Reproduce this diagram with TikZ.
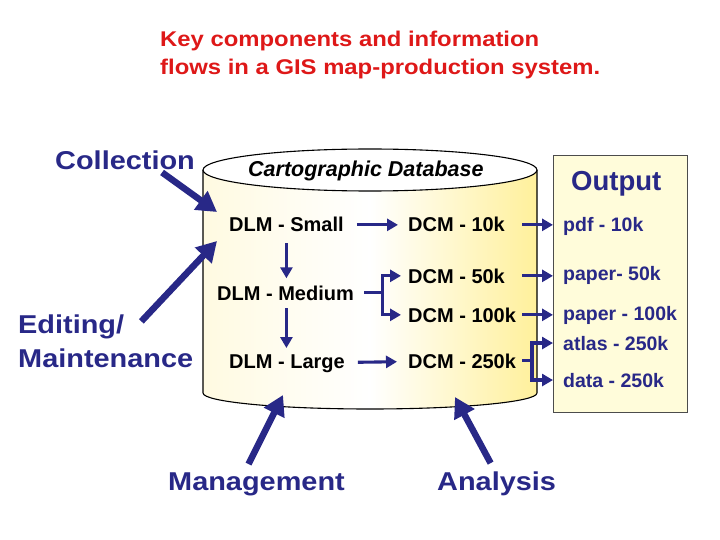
\documentclass[tikz,border=0pt]{standalone}
\usepackage{fontspec}
\setmainfont{Liberation Sans}
\newfontfamily\widefont{Liberation Sans}[FakeStretch=1.12]
\usepackage{xcolor}
\usepackage{tikz}
\usetikzlibrary{arrows.meta, calc}

\definecolor{navy}{RGB}{40,40,135}
\definecolor{titlered}{RGB}{222,24,24}
\definecolor{dbyellow}{RGB}{255,240,155}
\definecolor{dbpale}{RGB}{255,250,225}
\definecolor{boxfill}{RGB}{255,252,218}

\tikzset{
  head/.style={font=\widefont\fontsize{21.3}{26}\selectfont\bfseries, text=titlered, inner sep=0pt, anchor=base west},
  role/.style={font=\widefont\fontsize{25.8}{30}\selectfont\bfseries, text=navy, inner sep=2pt, anchor=base west},
  db/.style={font=\fontsize{20}{24}\selectfont\bfseries, inner sep=1pt, anchor=base west},
  item/.style={font=\fontsize{19.5}{23}\selectfont\bfseries, text=navy, inner sep=1pt, anchor=base west},
  flow/.style={draw=navy, line width=3.1pt, -{Triangle[length=11pt,width=12pt]}},
  wire/.style={draw=navy, line width=3.1pt},
  bigflow/.style={draw=navy, line width=6.5pt, -{Triangle[length=20pt,width=22pt]}}
}

\begin{document}
\begin{tikzpicture}[x=1pt, y=-1pt]
    \useasboundingbox (0,0) rectangle (720,540);

    % Titolo
    \node[head] (t1) at (160,47) {Key components and information};
    \node[head] (t2) at (160,75) {flows in a GIS map-production system.};

    % Database
    \shade[left color=dbpale, right color=dbyellow, middle color=white]
        (203,170) -- (203,393) arc[start angle=180, end angle=0, x radius=167, y radius=16] -- (537,170) -- cycle;
    \draw[line width=1.1pt] (203,170) -- (203,393) arc[start angle=180, end angle=0, x radius=167, y radius=16] -- (537,170);
    \draw[line width=1.1pt, fill=white] (370,170) ellipse [x radius=167, y radius=21];
    \node[font=\fontsize{21.5}{26}\selectfont\bfseries\itshape, inner sep=0pt, anchor=base west] (cdb) at (248,177) {Cartographic Database};

    \node[db] (sm) at (228,232) {DLM - Small};
    \node[db] (med) at (216,300) {DLM - Medium};
    \node[db] (lg) at (228,368) {DLM - Large};
    \node[db] (c10) at (407,232) {DCM - 10k};
    \node[db] (c50) at (407,283) {DCM - 50k};
    \node[db] (c100) at (407,322) {DCM - 100k};
    \node[db] (c250) at (407,368) {DCM - 250k};

    % Output
    \node[draw=black!70, fill=boxfill, line width=0.8pt, minimum width=134pt, minimum height=257pt, inner sep=0pt, anchor=north west] (out) at (553,155) {};
    \node[font=\fontsize{27.5}{32}\selectfont\bfseries, text=navy, inner sep=0pt, anchor=base west] (outl) at (571,191) {Output};
    \node[item] (pdf) at (562,232) {pdf - 10k};
    \node[item] (p50) at (562,280) {paper- 50k};
    \node[item] (p100) at (562,320) {paper - 100k};
    \node[item] (atlas) at (562,350) {atlas - 250k};
    \node[item] (data) at (562,387) {data - 250k};

    % Frecce interne
    \coordinate (rail) at (522,0);
    \coordinate (split) at ([xshift=27pt]med.east);
    \coordinate (fork) at ([xshift=10pt]c250.east -| rail);

    \draw[flow, shorten <=12pt, shorten >=9pt] (sm) -- (c10);
    \draw[flow, shorten <=12pt, shorten >=10pt] (lg) -- (c250);
    \draw[flow, shorten <=10pt, shorten >=6pt] (sm.south) -- (sm.south |- med.north);
    \draw[flow, shorten <=7pt, shorten >=5pt] (sm.south |- med.south) -- (sm.south |- lg.north);
    \draw[wire] ([xshift=9pt]med.east) -- (split);
    \draw[flow, shorten >=6pt] (split) |- (c50);
    \draw[flow, shorten >=6pt] (split) |- (c100);

    \draw[flow] (c10.east -| rail) -- (c10.east -| out.west);
    \draw[flow] (c50.east -| rail) -- (c50.east -| out.west);
    \draw[flow] (c100.east -| rail) -- (c100.east -| out.west);
    \draw[wire] (c250.east -| rail) -- (fork);
    \draw[flow] (fork) |- (atlas.west -| out.west);
    \draw[flow] (fork) |- (data.west -| out.west);

    % Ruoli
    \node[role] (coll) at (53,170) {Collection};
    \node[role] (edit) at (16,333) {Editing/};
    \node[role] (maint) at (16,367) {Maintenance};
    \node[role] (mgmt) at (166,490) {Management};
    \node[role] (anal) at (435,490) {Analysis};

    \coordinate (inC) at (217,212);
    \coordinate (inE) at (217,241);
    \coordinate (inM) at (283,395);
    \coordinate (inA) at (455,397);

    \draw[bigflow] ([xshift=-35pt]coll.south east) -- (inC);
    \draw[bigflow] ([xshift=15pt,yshift=5pt]edit.east) -- (inE);
    \draw[bigflow] ([xshift=-8pt,yshift=6pt]mgmt.north) -- (inM);
    \draw[bigflow] ([xshift=-6pt,yshift=6pt]anal.north) -- (inA);
\end{tikzpicture}
\end{document}
